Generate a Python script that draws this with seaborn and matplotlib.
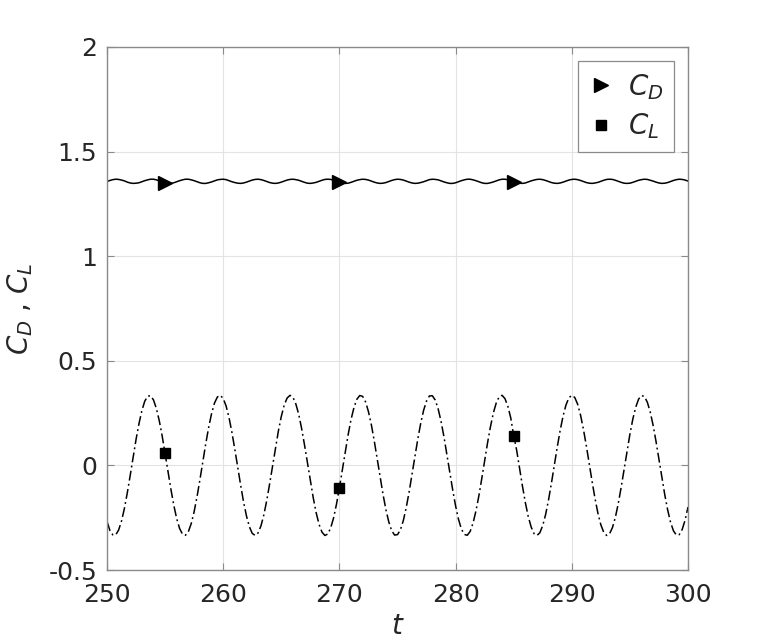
import numpy as np
import pandas as pd
import matplotlib
matplotlib.use("Agg")
import matplotlib.pyplot as plt
import seaborn as sns
from matplotlib.lines import Line2D

# ---------------- data ----------------
t = [250.0, 250.25, 250.5, 250.75, 251.0, 251.25, 251.5, 251.75, 252.0, 252.25,
     252.5, 252.75, 253.0, 253.25, 253.5, 253.75, 254.0, 254.25, 254.5, 254.75,
     255.0, 255.25, 255.5, 255.75, 256.0, 256.25, 256.5, 256.75, 257.0, 257.25,
     257.5, 257.75, 258.0, 258.25, 258.5, 258.75, 259.0, 259.25, 259.5, 259.75,
     260.0, 260.25, 260.5, 260.75, 261.0, 261.25, 261.5, 261.75, 262.0, 262.25,
     262.5, 262.75, 263.0, 263.25, 263.5, 263.75, 264.0, 264.25, 264.5, 264.75,
     265.0, 265.25, 265.5, 265.75, 266.0, 266.25, 266.5, 266.75, 267.0, 267.25,
     267.5, 267.75, 268.0, 268.25, 268.5, 268.75, 269.0, 269.25, 269.5, 269.75,
     270.0, 270.25, 270.5, 270.75, 271.0, 271.25, 271.5, 271.75, 272.0, 272.25,
     272.5, 272.75, 273.0, 273.25, 273.5, 273.75, 274.0, 274.25, 274.5, 274.75,
     275.0, 275.25, 275.5, 275.75, 276.0, 276.25, 276.5, 276.75, 277.0, 277.25,
     277.5, 277.75, 278.0, 278.25, 278.5, 278.75, 279.0, 279.25, 279.5, 279.75,
     280.0, 280.25, 280.5, 280.75, 281.0, 281.25, 281.5, 281.75, 282.0, 282.25,
     282.5, 282.75, 283.0, 283.25, 283.5, 283.75, 284.0, 284.25, 284.5, 284.75,
     285.0, 285.25, 285.5, 285.75, 286.0, 286.25, 286.5, 286.75, 287.0, 287.25,
     287.5, 287.75, 288.0, 288.25, 288.5, 288.75, 289.0, 289.25, 289.5, 289.75,
     290.0, 290.25, 290.5, 290.75, 291.0, 291.25, 291.5, 291.75, 292.0, 292.25,
     292.5, 292.75, 293.0, 293.25, 293.5, 293.75, 294.0, 294.25, 294.5, 294.75,
     295.0, 295.25, 295.5, 295.75, 296.0, 296.25, 296.5, 296.75, 297.0, 297.25,
     297.5, 297.75, 298.0, 298.25, 298.5, 298.75, 299.0, 299.25, 299.5, 299.75,
     300.0]

cl = [-0.268, -0.311, -0.332, -0.332, -0.309, -0.266, -0.205, -0.130, -0.047, 0.040,
      0.124, 0.199, 0.262, 0.307, 0.331, 0.333, 0.313, 0.272, 0.213, 0.140,
      0.057, -0.029, -0.114, -0.191, -0.255, -0.302, -0.329, -0.334, -0.317, -0.278,
      -0.221, -0.149, -0.067, 0.019, 0.104, 0.182, 0.248, 0.298, 0.327, 0.335,
      0.320, 0.284, 0.229, 0.158, 0.077, -0.009, -0.094, -0.174, -0.241, -0.293,
      -0.325, -0.335, -0.323, -0.289, -0.236, -0.167, -0.087, -0.002, 0.084, 0.165,
      0.234, 0.288, 0.322, 0.335, 0.326, 0.294, 0.244, 0.176, 0.097, 0.012,
      -0.074, -0.155, -0.226, -0.282, -0.319, -0.335, -0.328, -0.299, -0.251, -0.185,
      -0.107, -0.022, 0.064, 0.146, 0.219, 0.276, 0.316, 0.334, 0.330, 0.304,
      0.257, 0.194, 0.117, 0.033, -0.054, -0.137, -0.211, -0.270, -0.312, -0.333,
      -0.331, -0.308, -0.264, -0.202, -0.127, -0.043, 0.043, 0.127, 0.202, 0.264,
      0.308, 0.332, 0.333, 0.312, 0.270, 0.210, 0.136, 0.053, -0.033, -0.117,
      -0.194, -0.258, -0.304, -0.330, -0.334, -0.316, -0.276, -0.218, -0.146, -0.064,
      0.023, 0.108, 0.185, 0.251, 0.299, 0.328, 0.335, 0.319, 0.282, 0.226,
      0.142, 0.074, -0.012, -0.098, -0.177, -0.244, -0.294, -0.326, -0.335, -0.322,
      -0.287, -0.234, -0.164, -0.084, 0.002, 0.088, 0.168, 0.236, 0.289, 0.323,
      0.335, 0.325, 0.293, 0.241, 0.173, 0.094, 0.008, -0.078, -0.159, -0.229,
      -0.284, -0.320, -0.335, -0.327, -0.297, -0.248, -0.182, -0.104, -0.019, 0.068,
      0.149, 0.221, 0.278, 0.317, 0.334, 0.329, 0.302, 0.255, 0.191, 0.114,
      0.029, -0.057, -0.140, -0.213, -0.272, -0.313, -0.333, -0.331, -0.306, -0.262,
      -0.199]

cd = [1.357, 1.362, 1.366, 1.368, 1.367, 1.364, 1.360, 1.354, 1.350, 1.348, 1.349, 1.351,
      1.356, 1.361, 1.365, 1.368, 1.368, 1.365, 1.360, 1.355, 1.351, 1.348, 1.348, 1.351,
      1.356, 1.361, 1.365, 1.368, 1.368, 1.365, 1.361, 1.356, 1.351, 1.348, 1.348, 1.351,
      1.355, 1.360, 1.365, 1.367, 1.368, 1.366, 1.361, 1.356, 1.352, 1.349, 1.348, 1.350,
      1.354, 1.359, 1.364, 1.367, 1.368, 1.366, 1.362, 1.357, 1.352, 1.349, 1.348, 1.350,
      1.354, 1.359, 1.364, 1.367, 1.368, 1.366, 1.363, 1.358, 1.353, 1.349, 1.348, 1.350,
      1.353, 1.358, 1.363, 1.367, 1.368, 1.367, 1.363, 1.358, 1.353, 1.350, 1.348, 1.349,
      1.353, 1.358, 1.363, 1.366, 1.368, 1.367, 1.364, 1.359, 1.354, 1.350, 1.348, 1.349,
      1.352, 1.357, 1.362, 1.366, 1.368, 1.367, 1.364, 1.359, 1.354, 1.350, 1.348, 1.349,
      1.352, 1.356, 1.361, 1.366, 1.368, 1.367, 1.365, 1.360, 1.355, 1.351, 1.348, 1.348,
      1.351, 1.356, 1.361, 1.365, 1.368, 1.368, 1.365, 1.361, 1.356, 1.351, 1.348, 1.348,
      1.351, 1.355, 1.360, 1.365, 1.368, 1.368, 1.365, 1.361, 1.356, 1.351, 1.349, 1.348,
      1.350, 1.355, 1.360, 1.364, 1.367, 1.368, 1.366, 1.362, 1.357, 1.352, 1.349, 1.348,
      1.350, 1.354, 1.359, 1.364, 1.367, 1.368, 1.366, 1.362, 1.357, 1.352, 1.349, 1.348,
      1.350, 1.353, 1.358, 1.363, 1.367, 1.368, 1.367, 1.363, 1.358, 1.353, 1.349, 1.348,
      1.349, 1.353, 1.358, 1.363, 1.366, 1.368, 1.367, 1.363, 1.359, 1.354, 1.350, 1.348,
      1.349, 1.352, 1.357, 1.362, 1.366, 1.368, 1.367, 1.364, 1.359]

marker_t = [255.0, 270.0, 285.0]

x_ticks = [250, 260, 270, 280, 290, 300]
x_ticklabels = ["250", "260", "270", "280", "290", "300"]
y_ticks = [-0.5, 0, 0.5, 1, 1.5, 2]
y_ticklabels = ["-0.5", "0", "0.5", "1", "1.5", "2"]

series_labels = ["$C_D$", "$C_L$"]
x_label = "$t$"
y_label = "$C_D$ , $C_L$"

# ---------------- build tables ----------------
df = pd.DataFrame({"t": t, "cd": cd, "cl": cl})
mk = df[df["t"].isin(marker_t)]

# ---------------- style ----------------
sns.set_theme(style="white")
plt.rcParams["font.family"] = ["DejaVu Sans"]
plt.rcParams["mathtext.fontset"] = "dejavusans"
text_col = "#262626"
axis_col = "#8a8a8a"

fig = plt.figure(figsize=(7.6, 6.43), dpi=100)
ax = fig.add_axes([107 / 760, 1 - 570 / 643, (688 - 107) / 760, (570 - 47) / 643])

sns.lineplot(data=df, x="t", y="cd", ax=ax, color="black", linewidth=1.1,
             estimator=None, sort=False)
sns.lineplot(data=df, x="t", y="cl", ax=ax, color="black", linewidth=1.1,
             linestyle=(0, (6.5, 2.2, 1.2, 2.2)), estimator=None, sort=False)
ax.plot(mk["t"], mk["cd"], linestyle="none", marker=">", markersize=10,
        color="black", zorder=5)
ax.plot(mk["t"], mk["cl"], linestyle="none", marker="s", markersize=7.5,
        color="black", zorder=5)

ax.set_xlim(x_ticks[0], x_ticks[-1])
ax.set_ylim(y_ticks[0], y_ticks[-1])
ax.set_xticks(x_ticks)
ax.set_xticklabels(x_ticklabels)
ax.set_yticks(y_ticks)
ax.set_yticklabels(y_ticklabels)

ax.grid(True, color="#e3e3e3", linewidth=0.8)
ax.set_axisbelow(True)
for s in ax.spines.values():
    s.set_visible(True)
    s.set_color(axis_col)
    s.set_linewidth(1.0)
ax.tick_params(axis="both", which="both", direction="in", length=5, width=0.8,
               color=axis_col, labelsize=18, labelcolor=text_col,
               top=True, right=True, bottom=True, left=True)
ax.tick_params(axis="x", pad=9)
ax.tick_params(axis="y", pad=7)

ax.set_xlabel(x_label, fontsize=20, color=text_col, labelpad=4)
ax.set_ylabel(y_label, fontsize=20, color=text_col, labelpad=10)

handles = [Line2D([], [], linestyle="none", marker=">", markersize=10, color="black"),
           Line2D([], [], linestyle="none", marker="s", markersize=7.5, color="black")]
leg = ax.legend(handles, series_labels, loc="upper right", fontsize=20,
                frameon=True, fancybox=False, framealpha=1, edgecolor=axis_col,
                borderpad=0.4, handlelength=0.9, handletextpad=0.5,
                labelspacing=0.35, borderaxespad=0.5)
leg.get_frame().set_linewidth(0.9)
for txt in leg.get_texts():
    txt.set_color(text_col)

fig.savefig("out.png", dpi=100, facecolor="white")
